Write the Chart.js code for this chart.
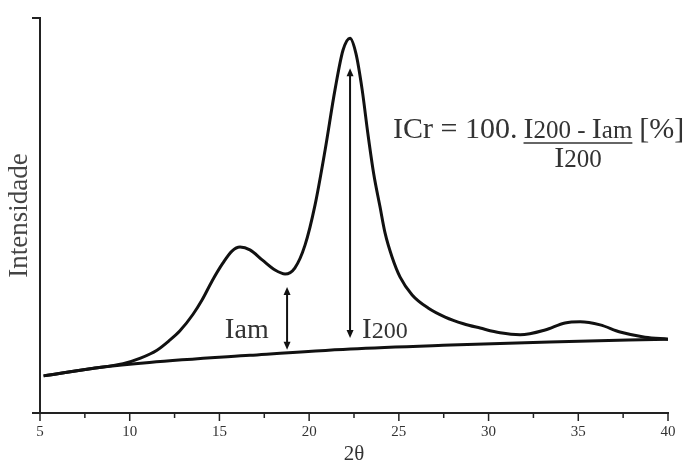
<!DOCTYPE html>
<html>
<head>
<meta charset="utf-8">
<script src="https://cdn.jsdelivr.net/npm/chart.js@4"></script>
<style>
    html, body { margin: 0; padding: 0; background: #fff; }
    #wrap { width: 693px; height: 467px; }
</style>
</head>
<body>
<div id="wrap"><canvas id="chart"></canvas></div>
<script>
// diffractogram curve (2theta, intensity in arbitrary units)
const curveX = [5.2, 6.5, 7.79, 9.63, 10.6, 11.52, 12.2, 12.8, 13.53, 14.03, 14.6, 15.2, 15.7, 16.15, 16.7, 17.4, 18.1, 18.66, 19.2, 19.77, 20.33, 20.89, 21.44, 21.89, 22.28, 22.61, 22.95, 23.28, 23.6, 23.95, 24.23, 24.62, 25.07, 25.74, 26.63, 27.58, 28.6, 29.53, 30.64, 31.76, 33.15, 34.26, 35.1, 36.22, 37.33, 38.72, 40.0];
const curveY = [9.4, 10.3, 11.2, 12.5, 13.9, 15.9, 18.3, 20.8, 25.0, 28.6, 33.5, 38.0, 41.0, 42.0, 41.3, 38.7, 36.2, 35.2, 36.7, 42.5, 52.7, 66.6, 81.8, 91.9, 94.9, 91.0, 82.0, 70.5, 60.5, 52.2, 45.6, 39.5, 34.4, 29.9, 26.6, 24.3, 22.6, 21.5, 20.3, 19.8, 21.0, 22.8, 23.1, 22.3, 20.5, 19.2, 18.7];

// amorphous baseline
const baseX = [5.2, 8.3, 11.1, 16.7, 22.3, 27.9, 33.4, 40.0];
const baseY = [9.4, 11.5, 12.8, 14.6, 16.2, 17.2, 18.0, 18.7];

const xTicks = [5, 10, 15, 20, 25, 30, 35, 40];

// arrows: [x, yFrom, yTo]
const arrowIam = [18.77, 16.0, 31.9];
const arrowI200 = [22.28, 19.0, 87.3];

const SERIF = "'Liberation Serif', 'DejaVu Serif', serif";

function toPoints(xs, ys) {
    return xs.map((x, i) => ({ x: x, y: ys[i] }));
}

function drawArrowHead(ctx, x, y, dir) {
    ctx.beginPath();
    ctx.moveTo(x, y);
    ctx.lineTo(x - 3.5, y - dir * 8);
    ctx.lineTo(x + 3.5, y - dir * 8);
    ctx.closePath();
    ctx.fill();
}

// writes "I" big plus a smaller suffix on the same baseline, returns end x
function writeLabel(ctx, x, y, big, small, bigSize, smallSize) {
    ctx.font = bigSize + "px " + SERIF;
    ctx.fillText(big, x, y);
    let w = ctx.measureText(big).width;
    ctx.font = smallSize + "px " + SERIF;
    ctx.fillText(small, x + w, y);
    return x + w + ctx.measureText(small).width;
}

function labelWidth(ctx, big, small, bigSize, smallSize) {
    ctx.font = bigSize + "px " + SERIF;
    let w = ctx.measureText(big).width;
    ctx.font = smallSize + "px " + SERIF;
    return w + ctx.measureText(small).width;
}

const decorPlugin = {
    id: "decor",
    afterDatasetsDraw(chart) {
        const ctx = chart.ctx;
        const xs = chart.scales.x;
        const ys = chart.scales.y;
        const area = chart.chartArea;
        ctx.save();
        ctx.strokeStyle = "#222";
        ctx.fillStyle = "#222";

        // axis extras
        ctx.lineWidth = 2;
        ctx.beginPath();
        ctx.moveTo(area.left - 8, area.bottom);
        ctx.lineTo(area.right, area.bottom);
        ctx.moveTo(area.left - 8, area.top);
        ctx.lineTo(area.left, area.top);
        ctx.stroke();

        // major and minor ticks
        ctx.lineWidth = 1.5;
        for (let v = 5; v <= 40; v += 2.5) {
            const px = xs.getPixelForValue(v);
            const len = v % 5 === 0 ? 8 : 5;
            ctx.beginPath();
            ctx.moveTo(px, area.bottom);
            ctx.lineTo(px, area.bottom + len);
            ctx.stroke();
        }

        // arrows
        ctx.strokeStyle = "#111";
        ctx.fillStyle = "#111";
        [arrowIam, arrowI200].forEach((a) => {
            const px = xs.getPixelForValue(a[0]);
            const y0 = ys.getPixelForValue(a[1]);
            const y1 = ys.getPixelForValue(a[2]);
            ctx.lineWidth = 2;
            ctx.beginPath();
            ctx.moveTo(px, y0 - 6);
            ctx.lineTo(px, y1 + 6);
            ctx.stroke();
            drawArrowHead(ctx, px, y0, 1);
            drawArrowHead(ctx, px, y1, -1);
        });

        // labels
        ctx.fillStyle = "#333";
        ctx.textBaseline = "alphabetic";
        ctx.textAlign = "left";
        writeLabel(ctx, xs.getPixelForValue(15.3), ys.getPixelForValue(19), "I", "am", 29, 28);
        writeLabel(ctx, xs.getPixelForValue(22.95), ys.getPixelForValue(19), "I", "200", 29, 24);

        // formula
        const fx = xs.getPixelForValue(24.68);
        const fy = ys.getPixelForValue(69.6);
        ctx.font = "30px " + SERIF;
        ctx.fillText("ICr = 100.", fx, fy);
        const nx = fx + ctx.measureText("ICr = 100.").width + 6;
        let ex = writeLabel(ctx, nx, fy, "I", "200 - ", 30, 25);
        ex = writeLabel(ctx, ex, fy, "I", "am", 30, 25);
        ctx.lineWidth = 1.5;
        ctx.strokeStyle = "#333";
        ctx.beginPath();
        ctx.moveTo(nx, fy + 5);
        ctx.lineTo(ex, fy + 5);
        ctx.stroke();
        ctx.font = "30px " + SERIF;
        ctx.fillText("[%]", ex + 7, fy);
        const dw = labelWidth(ctx, "I", "200", 30, 25);
        writeLabel(ctx, (nx + ex) / 2 - dw / 2, fy + 29, "I", "200", 30, 25);
        ctx.restore();
    },
};

new Chart(document.getElementById("chart"), {
    type: "line",
    data: {
        datasets: [
            {
                data: toPoints(curveX, curveY),
                borderColor: "#111",
                borderWidth: 3,
                pointRadius: 0,
                cubicInterpolationMode: "monotone",
                fill: false,
            },
            {
                data: toPoints(baseX, baseY),
                borderColor: "#111",
                borderWidth: 3,
                pointRadius: 0,
                cubicInterpolationMode: "monotone",
                fill: false,
            },
        ],
    },
    options: {
        responsive: true,
        maintainAspectRatio: false,
        animation: false,
        layout: { padding: { top: 18, right: 25, left: 0, bottom: 0 } },
        plugins: {
            legend: { display: false },
            tooltip: { enabled: false },
        },
        scales: {
            x: {
                type: "linear",
                min: 5,
                max: 40,
                afterBuildTicks(scale) {
                    scale.ticks = xTicks.map((v) => ({ value: v }));
                },
                afterFit(scale) {
                    scale.height = 54;
                },
                grid: { display: false, drawTicks: true, tickLength: 8 },
                border: { display: true, color: "#222", width: 2 },
                ticks: {
                    color: "#333",
                    padding: 2,
                    maxRotation: 0,
                    font: { family: SERIF, size: 15 },
                },
                title: {
                    display: true,
                    text: "2θ",
                    color: "#333",
                    padding: { top: 0, bottom: 0 },
                    font: { family: SERIF, size: 21 },
                },
            },
            y: {
                min: 0,
                max: 100,
                afterFit(scale) {
                    scale.width = 40;
                },
                grid: { display: false, drawTicks: false },
                border: { display: true, color: "#222", width: 2 },
                ticks: { display: false },
                title: {
                    display: true,
                    text: "Intensidade",
                    color: "#444",
                    padding: { top: 4, bottom: 0 },
                    font: { family: SERIF, size: 27 },
                },
            },
        },
    },
    plugins: [decorPlugin],
});
</script>
</body>
</html>
